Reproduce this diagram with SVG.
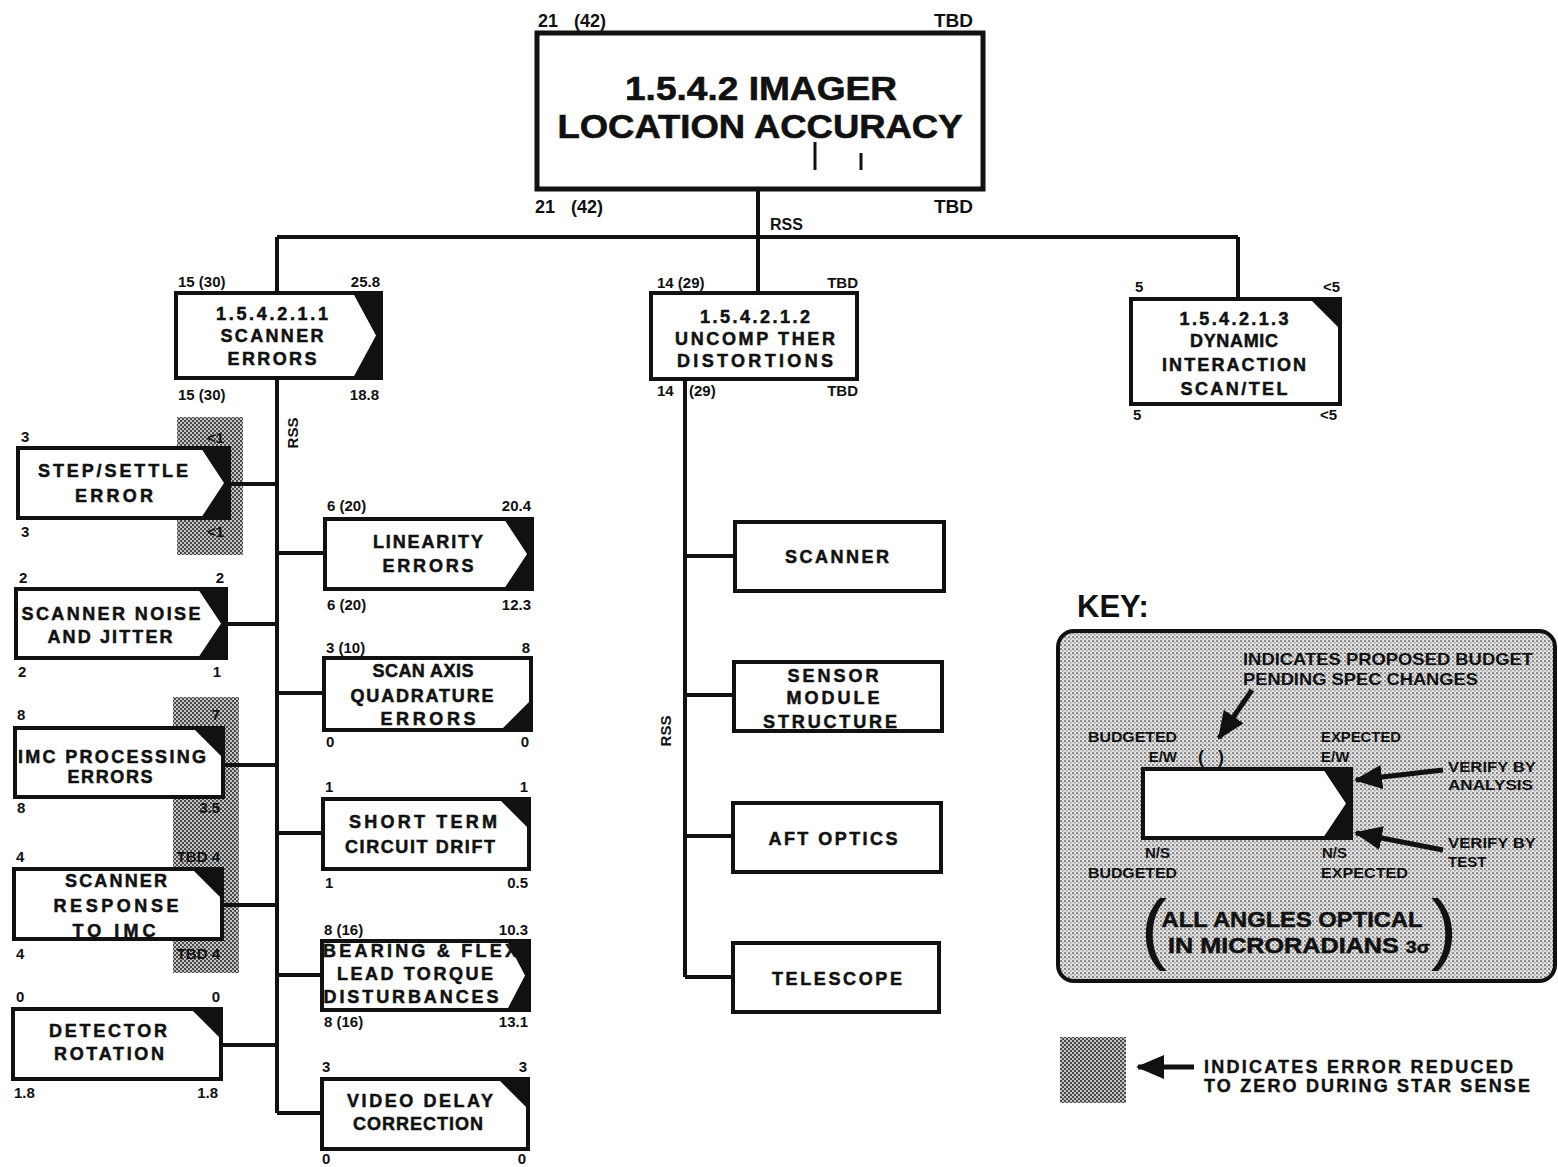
<svg xmlns="http://www.w3.org/2000/svg" width="1558" height="1167" viewBox="0 0 1558 1167">
<style>
.box{fill:#fff;stroke:#111;stroke-width:4}
.big{fill:#fff;stroke:#111;stroke-width:5}
.tri{fill:#111}
.conn{stroke:#111;stroke-width:4;fill:none}
.t{font-family:"Liberation Sans",Arial,sans-serif;font-weight:bold;font-size:18px;fill:#111;text-anchor:middle;stroke:#111;stroke-width:0.5}
.n{font-family:"Liberation Sans",Arial,sans-serif;font-weight:bold;font-size:15px;fill:#111}
.r{text-anchor:end}
.k{font-family:"Liberation Sans",Arial,sans-serif;font-weight:bold;font-size:16px;fill:#111}
.title{font-family:"Liberation Sans",Arial,sans-serif;font-weight:bold;font-size:33px;fill:#111;text-anchor:middle;stroke:#111;stroke-width:0.6}
.arr{stroke:#111;stroke-width:5;fill:none;marker-end:url(#ah)}
.par{font-family:"Liberation Sans",Arial,sans-serif;font-size:78px;fill:#111}
</style>
<defs>
<pattern id="dark" width="4" height="4" patternUnits="userSpaceOnUse">
<rect width="4" height="4" fill="#c4c4c4"/>
<rect width="2" height="2" fill="#4a4a4a"/>
<rect x="2" y="2" width="2" height="2" fill="#4a4a4a"/>
</pattern>
<pattern id="light" width="4" height="4" patternUnits="userSpaceOnUse">
<rect width="4" height="4" fill="#e2e2e2"/>
<rect width="2" height="2" fill="#8a8a8a"/>
<rect x="2" y="2" width="1.5" height="1.5" fill="#9a9a9a"/>
</pattern>
<marker id="ah" markerUnits="userSpaceOnUse" markerWidth="28" markerHeight="24" refX="26" refY="12" orient="auto">
<path d="M0,0 L28,12 L0,24 Z" fill="#111"/>
</marker>
</defs>
<rect width="1558" height="1167" fill="#fff"/>

<!-- shaded regions -->
<rect x="177" y="417" width="66" height="138" fill="url(#dark)"/>
<rect x="173" y="697" width="66" height="276" fill="url(#dark)"/>

<g id="connectors">
<path class="conn" d="M758,190 V237 M277,237 H1238 M277,237 V292 M758,237 V292 M1238,237 V298"/>
<path class="conn" d="M277,378 V1113 M230,484 H277 M227,624 H277 M224,765 H277 M223,905 H277 M222,1045 H277"/>
<path class="conn" d="M277,553 H324 M277,693 H323 M277,833 H322 M277,975 H321 M277,1113 H321"/>
<path class="conn" d="M685,378 V977 M685,556 H733 M685,695 H732 M685,836 H731 M685,977 H731"/>
<text class="n" x="770" y="230" style="font-size:16px">RSS</text>
<text class="n" transform="translate(298,433) rotate(-90)" text-anchor="middle">RSS</text>
<text class="n" transform="translate(671,731) rotate(-90)" text-anchor="middle">RSS</text>
</g>

<g id="top">
<rect class="big" x="537" y="33" width="446" height="156"/>
<text class="title" x="761" y="100" textLength="272" lengthAdjust="spacingAndGlyphs">1.5.4.2 IMAGER</text>
<text class="title" x="760" y="138" textLength="405" lengthAdjust="spacingAndGlyphs">LOCATION ACCURACY</text>
<path d="M815,142 V170 M861,153 V170" stroke="#111" stroke-width="3"/>
<text class="n" x="538" y="27" style="font-size:18px">21</text>
<text class="n" x="574" y="27" style="font-size:18px">(42)</text>
<text class="n r" x="973" y="27" style="font-size:19px">TBD</text>
<text class="n" x="535" y="213" style="font-size:18px">21</text>
<text class="n" x="571" y="213" style="font-size:18px">(42)</text>
<text class="n r" x="973" y="213" style="font-size:19px">TBD</text>
</g>

<g id="scanner-errors">
<rect class="box" x="176" y="293" width="205" height="85"/>
<polygon class="tri" points="353,293 381,293 381,378 353,378 376,335.5"/>
<text class="t" x="272" y="320" textLength="112" lengthAdjust="spacing">1.5.4.2.1.1</text>
<text class="t" x="272" y="342" textLength="103" lengthAdjust="spacing">SCANNER</text>
<text class="t" x="272" y="365" textLength="89" lengthAdjust="spacing">ERRORS</text>
<text class="n" x="178" y="287">15 (30)</text>
<text class="n r" x="380" y="287">25.8</text>
<text class="n" x="178" y="400">15 (30)</text>
<text class="n r" x="379" y="400">18.8</text>
</g>

<g id="uncomp">
<rect class="box" x="651" y="293" width="206" height="86"/>
<text class="t" x="755" y="323" textLength="110" lengthAdjust="spacing">1.5.4.2.1.2</text>
<text class="t" x="755" y="345" textLength="160" lengthAdjust="spacing">UNCOMP THER</text>
<text class="t" x="755" y="367" textLength="156" lengthAdjust="spacing">DISTORTIONS</text>
<text class="n" x="657" y="288">14 (29)</text>
<text class="n r" x="858" y="288">TBD</text>
<text class="n" x="657" y="396">14</text>
<text class="n" x="689" y="396">(29)</text>
<text class="n r" x="858" y="396">TBD</text>
</g>

<g id="dynamic">
<rect class="box" x="1131" y="299" width="209" height="105"/>
<polygon class="tri" points="1310,299 1340,299 1340,329"/>
<text class="t" x="1234" y="325" textLength="109" lengthAdjust="spacing">1.5.4.2.1.3</text>
<text class="t" x="1234" y="347" textLength="88" lengthAdjust="spacing">DYNAMIC</text>
<text class="t" x="1234" y="371" textLength="144" lengthAdjust="spacing">INTERACTION</text>
<text class="t" x="1234" y="395" textLength="107" lengthAdjust="spacing">SCAN/TEL</text>
<text class="n" x="1135" y="292">5</text>
<text class="n r" x="1340" y="292">&lt;5</text>
<text class="n" x="1133" y="420">5</text>
<text class="n r" x="1337" y="420">&lt;5</text>
</g>

<g id="step-settle">
<rect class="box" x="18" y="448" width="211" height="70"/>
<polygon class="tri" points="201,448 229,448 229,518 201,518 224,483"/>
<text class="t" x="113" y="477" textLength="150" lengthAdjust="spacing">STEP/SETTLE</text>
<text class="t" x="114" y="502" textLength="78" lengthAdjust="spacing">ERROR</text>
<text class="n" x="21" y="442">3</text>
<text class="n r" x="224" y="443">&lt;1</text>
<text class="n" x="21" y="537">3</text>
<text class="n r" x="224" y="537">&lt;1</text>
</g>

<g id="scanner-noise">
<rect class="box" x="16" y="589" width="210" height="69"/>
<polygon class="tri" points="198,589 226,589 226,658 198,658 221,623.5"/>
<text class="t" x="111" y="620" textLength="179" lengthAdjust="spacing">SCANNER NOISE</text>
<text class="t" x="110" y="643" textLength="125" lengthAdjust="spacing">AND JITTER</text>
<text class="n" x="19" y="583">2</text>
<text class="n r" x="224" y="583">2</text>
<text class="n" x="18" y="677">2</text>
<text class="n r" x="221" y="677">1</text>
</g>

<g id="imc-processing">
<rect class="box" x="15" y="728" width="208" height="69"/>
<polygon class="tri" points="193,728 223,728 223,758"/>
<text class="t" x="112" y="763" textLength="188" lengthAdjust="spacing">IMC PROCESSING</text>
<text class="t" x="110" y="783" textLength="85" lengthAdjust="spacing">ERRORS</text>
<text class="n" x="17" y="720">8</text>
<text class="n r" x="220" y="720">7</text>
<text class="n" x="17" y="813">8</text>
<text class="n r" x="220" y="813">3.5</text>
</g>

<g id="scanner-response">
<rect class="box" x="14" y="869" width="208" height="70"/>
<polygon class="tri" points="192,869 222,869 222,899"/>
<text class="t" x="116" y="887" textLength="102" lengthAdjust="spacing">SCANNER</text>
<text class="t" x="116" y="912" textLength="125" lengthAdjust="spacing">RESPONSE</text>
<text class="t" x="114" y="937" textLength="83" lengthAdjust="spacing">TO IMC</text>
<text class="n" x="16" y="862">4</text>
<text class="n r" x="220" y="862">TBD 4</text>
<text class="n" x="16" y="959">4</text>
<text class="n r" x="220" y="959">TBD 4</text>
</g>

<g id="detector-rotation">
<rect class="box" x="13" y="1009" width="208" height="70"/>
<polygon class="tri" points="191,1009 221,1009 221,1039"/>
<text class="t" x="108" y="1037" textLength="118" lengthAdjust="spacing">DETECTOR</text>
<text class="t" x="109" y="1060" textLength="110" lengthAdjust="spacing">ROTATION</text>
<text class="n" x="16" y="1002">0</text>
<text class="n r" x="220" y="1002">0</text>
<text class="n" x="14" y="1098">1.8</text>
<text class="n r" x="218" y="1098">1.8</text>
</g>

<g id="linearity">
<rect class="box" x="325" y="519" width="207" height="70"/>
<polygon class="tri" points="504,519 532,519 532,589 504,589 527,554"/>
<text class="t" x="428" y="548" textLength="110" lengthAdjust="spacing">LINEARITY</text>
<text class="t" x="428" y="572" textLength="91" lengthAdjust="spacing">ERRORS</text>
<text class="n" x="327" y="511">6 (20)</text>
<text class="n r" x="531" y="511">20.4</text>
<text class="n" x="327" y="610">6 (20)</text>
<text class="n r" x="531" y="610">12.3</text>
</g>

<g id="scan-axis">
<rect class="box" x="324" y="658" width="207" height="72"/>
<polygon class="tri" points="501,730 531,730 531,700"/>
<text class="t" x="423" y="677" textLength="101" lengthAdjust="spacing">SCAN AXIS</text>
<text class="t" x="422" y="702" textLength="143" lengthAdjust="spacing">QUADRATURE</text>
<text class="t" x="428" y="725" textLength="95" lengthAdjust="spacing">ERRORS</text>
<text class="n" x="326" y="653">3 (10)</text>
<text class="n r" x="530" y="653">8</text>
<text class="n" x="326" y="747">0</text>
<text class="n r" x="529" y="747">0</text>
</g>

<g id="short-term">
<rect class="box" x="323" y="799" width="206" height="70"/>
<polygon class="tri" points="499,799 529,799 529,829"/>
<text class="t" x="423" y="828" textLength="148" lengthAdjust="spacing">SHORT TERM</text>
<text class="t" x="420" y="853" textLength="150" lengthAdjust="spacing">CIRCUIT DRIFT</text>
<text class="n" x="325" y="792">1</text>
<text class="n r" x="528" y="792">1</text>
<text class="n" x="325" y="888">1</text>
<text class="n r" x="528" y="888">0.5</text>
</g>

<g id="bearing-flex">
<rect class="box" x="322" y="941" width="207" height="69"/>
<polygon class="tri" points="507,941 529,941 529,1010 507,1010 525,975.5"/>
<text class="t" x="420" y="957" textLength="194" lengthAdjust="spacing">BEARING &amp; FLEX</text>
<text class="t" x="415" y="980" textLength="156" lengthAdjust="spacing">LEAD TORQUE</text>
<text class="t" x="411" y="1003" textLength="175" lengthAdjust="spacing">DISTURBANCES</text>
<text class="n" x="324" y="935">8 (16)</text>
<text class="n r" x="528" y="935">10.3</text>
<text class="n" x="324" y="1027">8 (16)</text>
<text class="n r" x="528" y="1027">13.1</text>
</g>

<g id="video-delay">
<rect class="box" x="322" y="1079" width="206" height="70"/>
<polygon class="tri" points="498,1079 528,1079 528,1109"/>
<text class="t" x="420" y="1107" textLength="146" lengthAdjust="spacing">VIDEO DELAY</text>
<text class="t" x="418" y="1130" textLength="130" lengthAdjust="spacing">CORRECTION</text>
<text class="n" x="322" y="1072">3</text>
<text class="n r" x="527" y="1072">3</text>
<text class="n" x="322" y="1164">0</text>
<text class="n r" x="526" y="1164">0</text>
</g>

<g id="scanner">
<rect class="box" x="735" y="522" width="209" height="69"/>
<text class="t" x="837" y="563" textLength="104" lengthAdjust="spacing">SCANNER</text>
</g>

<g id="sensor-module">
<rect class="box" x="734" y="662" width="208" height="69"/>
<text class="t" x="833" y="682" textLength="91" lengthAdjust="spacing">SENSOR</text>
<text class="t" x="833" y="704" textLength="93" lengthAdjust="spacing">MODULE</text>
<text class="t" x="830" y="728" textLength="134" lengthAdjust="spacing">STRUCTURE</text>
</g>

<g id="aft-optics">
<rect class="box" x="733" y="803" width="208" height="69"/>
<text class="t" x="833" y="845" textLength="129" lengthAdjust="spacing">AFT OPTICS</text>
</g>

<g id="telescope">
<rect class="box" x="733" y="943" width="206" height="69"/>
<text class="t" x="837" y="985" textLength="130" lengthAdjust="spacing">TELESCOPE</text>
</g>

<g id="key">
<text class="n" x="1077" y="617" style="font-size:31px">KEY:</text>
<rect x="1058" y="631" width="497" height="350" rx="16" fill="url(#light)" stroke="#111" stroke-width="4"/>
<text class="k" x="1243" y="665" style="font-size:17px" textLength="290" lengthAdjust="spacingAndGlyphs">INDICATES PROPOSED BUDGET</text>
<text class="k" x="1243" y="685" style="font-size:17px" textLength="235" lengthAdjust="spacingAndGlyphs">PENDING SPEC CHANGES</text>
<line class="arr" x1="1252" y1="690" x2="1219" y2="738"/>
<text class="k" x="1088" y="742" style="font-size:15px" textLength="89" lengthAdjust="spacingAndGlyphs">BUDGETED</text>
<text class="k r" x="1177" y="762" style="font-size:15px">E/W</text>
<text class="k" x="1198" y="763" style="font-size:18px">(</text>
<text class="k" x="1218" y="763" style="font-size:18px">)</text>
<text class="k" x="1321" y="742" style="font-size:15px" textLength="80" lengthAdjust="spacingAndGlyphs">EXPECTED</text>
<text class="k" x="1321" y="762" style="font-size:15px">E/W</text>
<rect class="box" x="1143" y="769" width="208" height="69"/>
<polygon class="tri" points="1323,769 1351,769 1351,838 1323,838 1346,803.5"/>
<text class="k" x="1448" y="772" style="font-size:15px" textLength="88" lengthAdjust="spacingAndGlyphs">VERIFY BY</text>
<text class="k" x="1448" y="790" style="font-size:15px" textLength="85" lengthAdjust="spacingAndGlyphs">ANALYSIS</text>
<line class="arr" x1="1443" y1="770" x2="1356" y2="780"/>
<text class="k" x="1448" y="848" style="font-size:15px" textLength="88" lengthAdjust="spacingAndGlyphs">VERIFY BY</text>
<text class="k" x="1448" y="867" style="font-size:15px">TEST</text>
<line class="arr" x1="1443" y1="850" x2="1356" y2="833"/>
<text class="k r" x="1170" y="858" style="font-size:15px">N/S</text>
<text class="k" x="1088" y="878" style="font-size:15px" textLength="89" lengthAdjust="spacingAndGlyphs">BUDGETED</text>
<text class="k" x="1322" y="858" style="font-size:15px">N/S</text>
<text class="k" x="1321" y="878" style="font-size:15px" textLength="87" lengthAdjust="spacingAndGlyphs">EXPECTED</text>
<text class="par" x="1141" y="955">(</text>
<text class="par" x="1431" y="955">)</text>
<text class="t" x="1292" y="927" style="font-size:22px" textLength="261" lengthAdjust="spacingAndGlyphs">ALL ANGLES OPTICAL</text>
<text class="t" x="1299" y="953" style="font-size:22px" textLength="262" lengthAdjust="spacingAndGlyphs">IN MICRORADIANS <tspan style="font-size:17px">3σ</tspan></text>
</g>

<g id="legend">
<rect x="1060" y="1037" width="66" height="66" fill="url(#dark)"/>
<line class="arr" x1="1194" y1="1067" x2="1138" y2="1067"/>
<text class="k" x="1204" y="1073" style="font-size:18px;stroke:#111;stroke-width:0.4" textLength="309" lengthAdjust="spacing">INDICATES ERROR REDUCED</text>
<text class="k" x="1204" y="1092" style="font-size:18px;stroke:#111;stroke-width:0.4" textLength="326" lengthAdjust="spacing">TO ZERO DURING STAR SENSE</text>
</g>
</svg>
